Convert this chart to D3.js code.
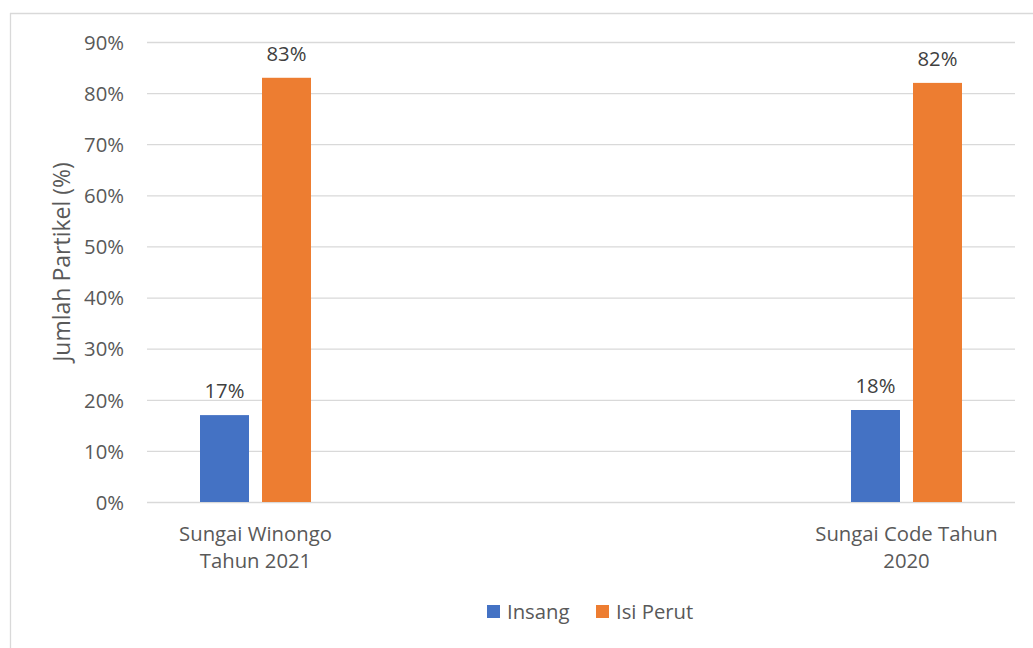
<!DOCTYPE html>
<html><head><meta charset="utf-8">
<script src="https://cdn.jsdelivr.net/npm/d3@7"></script>
<style>
html,body{margin:0;padding:0;background:#fff;}
svg{display:block;}
text{font-family:"Open Sans",Lato,sans-serif;}
</style></head>
<body>
<script>
// Data
const categories = [["Sungai Winongo", "Tahun 2021"], [""], [""], ["Sungai Code Tahun", "2020"]];
const seriesNames = ["Insang", "Isi Perut"];
const insang = [0.17, null, null, 0.18];
const isiPerut = [0.83, null, null, 0.82];
const yTicks = [0, 0.1, 0.2, 0.3, 0.4, 0.5, 0.6, 0.7, 0.8, 0.9];
const colors = ["#4472C4", "#ED7D31"];
const yTitle = "Jumlah Partikel (%)";

const W = 1033, H = 648;
const FS = "20.3px";
const svg = d3.select("body").append("svg").attr("width", W).attr("height", H);

// chart border (top and left visible)
svg.append("line").attr("x1", 10).attr("x2", W).attr("y1", 13.5).attr("y2", 13.5).attr("stroke", "#d9d9d9").attr("stroke-width", 1.3);
svg.append("line").attr("x1", 10.5).attr("x2", 10.5).attr("y1", 13).attr("y2", H).attr("stroke", "#d9d9d9").attr("stroke-width", 1.3);

const plot = {left: 147, right: 1015, top: 42, bottom: 502};
const idx = d3.range(categories.length);
const x0 = d3.scaleBand().domain(idx).range([plot.left, plot.right]).paddingInner(0).paddingOuter(0);
const x1 = d3.scaleBand().domain(seriesNames).range([0, 111]).paddingInner(0.2097).paddingOuter(0);
const y = d3.scaleLinear().domain([0, 0.9]).range([plot.bottom, plot.top]);

// gridlines
const yAxis = d3.axisLeft(y).tickValues(yTicks).tickSize(-(plot.right - plot.left)).tickFormat(d3.format(".0%")).tickPadding(23);
const gy = svg.append("g").attr("transform", `translate(${plot.left},0)`).call(yAxis);
gy.select(".domain").remove();
gy.selectAll(".tick line").attr("stroke", "#d9d9d9").attr("stroke-width", 1.3);
gy.selectAll(".tick text").attr("fill", "#595959").style("font-size", FS).style("font-family", "'Open Sans',sans-serif").attr("dy", "0.36em");

// bars
const seriesData = [insang, isiPerut];
seriesData.forEach((vals, si) => {
  const g = svg.append("g");
  idx.forEach(i => {
    const v = vals[i];
    if (v == null) return;
    const cx = x0(i) + x0.bandwidth() / 2;
    const bx = cx - 55.5 + x1(seriesNames[si]);
    g.append("rect").attr("x", bx).attr("y", y(v)).attr("width", x1.bandwidth()).attr("height", y(0) - y(v)).attr("fill", colors[si]);
    g.append("text").attr("x", bx + x1.bandwidth() / 2).attr("y", y(v) - 17).attr("text-anchor", "middle")
      .attr("fill", "#404040").style("font-size", FS).text(d3.format(".0%")(v));
  });
});

// category labels
const gx = svg.append("g");
idx.forEach(i => {
  const cx = x0(i) + x0.bandwidth() / 2;
  const t = gx.append("text").attr("x", cx).attr("y", 541).attr("text-anchor", "middle").attr("fill", "#595959").style("font-size", FS);
  categories[i].forEach((line, li) => {
    t.append("tspan").attr("x", cx).attr("dy", li === 0 ? 0 : 27).text(line);
  });
});

// y axis title
svg.append("text").attr("transform", `translate(70,${(plot.top + plot.bottom) / 2 - 10}) rotate(-90)`)
  .attr("text-anchor", "middle").attr("fill", "#595959").style("font-size", "23px").text(yTitle);

// legend
const legendItems = [{name: seriesNames[0], x: 487}, {name: seriesNames[1], x: 596}];
legendItems.forEach((d, i) => {
  svg.append("rect").attr("x", d.x).attr("y", 605).attr("width", 13).attr("height", 13).attr("fill", colors[i]);
  svg.append("text").attr("x", d.x + 20).attr("y", 619).attr("fill", "#595959").style("font-size", FS).text(d.name);
});
</script>
</body></html>
